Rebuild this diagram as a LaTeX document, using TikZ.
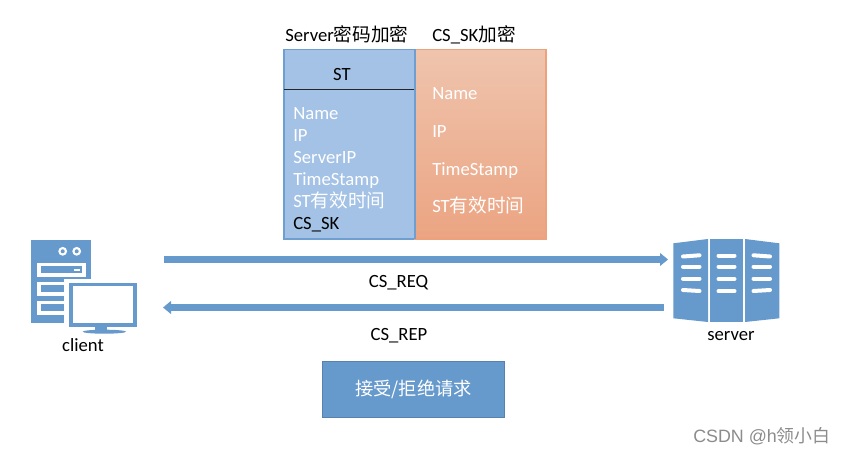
\documentclass[tikz,border=0pt]{standalone}
\usepackage{fontspec}
\setmainfont{Carlito}
\newfontfamily\cjk{Noto Sans CJK SC}
\newfontfamily\wmfont{Liberation Sans}
\usetikzlibrary{arrows.meta}
\definecolor{iconblue}{HTML}{6699CC}
\definecolor{stblue}{HTML}{A3C2E5}
\definecolor{stedge}{HTML}{6F9FD0}
\definecolor{sktop}{HTML}{EFC4AD}
\definecolor{skbot}{HTML}{EBA482}
\definecolor{skedge}{HTML}{EDA27C}
\tikzset{
  lbl/.style={anchor=base west,inner sep=0pt,font=\fontsize{14pt}{14pt}\selectfont},
  mid/.style={anchor=base,inner sep=0pt,font=\fontsize{14pt}{14pt}\selectfont},
  flow/.style={line width=4.6pt,iconblue,-{Triangle[length=6pt,width=9.5pt]}},
  slot/.style={white,line width=3pt,line cap=round}
}
\begin{document}
\begin{tikzpicture}[x=0.75pt,y=-0.75pt]
\useasboundingbox (0,0) rectangle (864,456);
\fill[white] (0,0) rectangle (864,456);
\filldraw[fill=stblue,draw=stedge,line width=0.9pt] (284,49.5) rectangle (415,239);
\shade[top color=sktop,bottom color=skbot] (415,49.5) rectangle (546,239);
\draw[skedge,line width=0.9pt] (415,49.5) rectangle (546,239);
\draw[stedge,line width=0.9pt] (415,49.5) -- (415,239);
\draw[black!85,line width=0.6pt] (284,89) -- (414,89);
\node[lbl] (titleserver) at (285,42) {Server\cjk 密码加密};
\node[lbl] (titlesk) at (432,42) {CS\_SK\cjk 加密};
\node[mid] (sthead) at (342,80.5) {ST};
\node[lbl,white] (stname) at (293,119.7) {Name};
\node[lbl,white] (stip) at (293,141.7) {IP};
\node[lbl,white] (stserver) at (293,163.7) {ServerIP};
\node[lbl,white] (sttime) at (293,185.7) {TimeStamp};
\node[lbl,white] (stvalid) at (293,207.7) {ST\cjk 有效时间};
\node[lbl] (stkey) at (293,229.7) {CS\_SK};
\node[lbl,white] (skname) at (432,99.7) {Name};
\node[lbl,white] (skip) at (432,137.7) {IP};
\node[lbl,white] (sktime) at (432,175.7) {TimeStamp};
\node[lbl,white] (skvalid) at (432,212.7) {ST\cjk 有效时间};
% client icon
\fill[iconblue] (31,239.5) rectangle (90.5,322.5);
\fill[white] (62.7,251.3) circle (4.4);
\fill[white] (76.7,251.3) circle (4.4);
\fill[iconblue] (62.7,251.3) circle (2);
\fill[iconblue] (76.7,251.3) circle (2);
\foreach \y in {262.5,281.5,300.5} {
  \fill[white] (36.7,\y) rectangle (86,\y+14.2);
  \fill[iconblue] (40.7,\y+3.6) rectangle (82,\y+10.6);
}
\fill[white] (73.5,268.5) rectangle (79.5,270.5);
\fill[white] (64,279) rectangle (141,340);
\fill[iconblue] (68.5,282.5) rectangle (136.7,326.7);
\fill[white] (72.7,286) rectangle (132.7,322.7);
\fill[iconblue] (95,326) rectangle (107,331);
\fill[iconblue] (104.3,331.7) ellipse (21.7 and 2);
\node[mid] (client) at (83,351.5) {client};
% server icon
\fill[iconblue] (673.3,243.3) -- (708,239) -- (708,322) -- (673.3,318.3) -- cycle;
\fill[iconblue] (710,239) rectangle (742.7,322);
\fill[iconblue] (745,239) -- (779.3,243.3) -- (779.3,318.3) -- (745,322) -- cycle;
\draw[slot] (683,256.5) -- (699.5,255.3);
\draw[slot] (683,266.7) -- (699.5,266.7);
\draw[slot] (683,278.7) -- (699.5,278.7);
\draw[slot] (683,290) -- (699.5,291);
\draw[slot] (718.5,255.5) -- (734.5,255.5);
\draw[slot] (718.5,266.7) -- (734.5,266.7);
\draw[slot] (718.5,279) -- (734.5,279);
\draw[slot] (718.5,291.3) -- (734.5,291.3);
\draw[slot] (753.5,255.3) -- (770,256.5);
\draw[slot] (753.5,266.7) -- (770,266.7);
\draw[slot] (753.5,278.7) -- (770,278.7);
\draw[slot] (753.5,291) -- (770,290);
\node[mid] (server) at (731,340) {server};
% requests between the two hosts
\coordinate (reqstart) at (164,259.5);
\coordinate (reqend) at (668,259.5);
\coordinate (repstart) at (664,307.5);
\coordinate (repend) at (163,307.5);
\draw[flow] (reqstart) -- (reqend);
\draw[flow] (repstart) -- (repend);
\node[mid] (csreq) at (398.5,287) {CS\_REQ};
\node[mid] (csrep) at (399,340) {CS\_REP};
\node[draw=iconblue!85!black,fill=iconblue,line width=0.6pt,minimum width=137pt,minimum height=42pt,inner sep=0pt,text=white,font=\cjk\fontsize{13.7pt}{13.7pt}\selectfont] (verdict) at (413.5,389) {接受/拒绝请求};
\node[anchor=base west,inner sep=0pt,black!45,font=\wmfont\fontsize{13.4pt}{13.4pt}\selectfont] (watermark) at (693,442.5) {CSDN @h{\cjk 领小白}};
\end{tikzpicture}
\end{document}
